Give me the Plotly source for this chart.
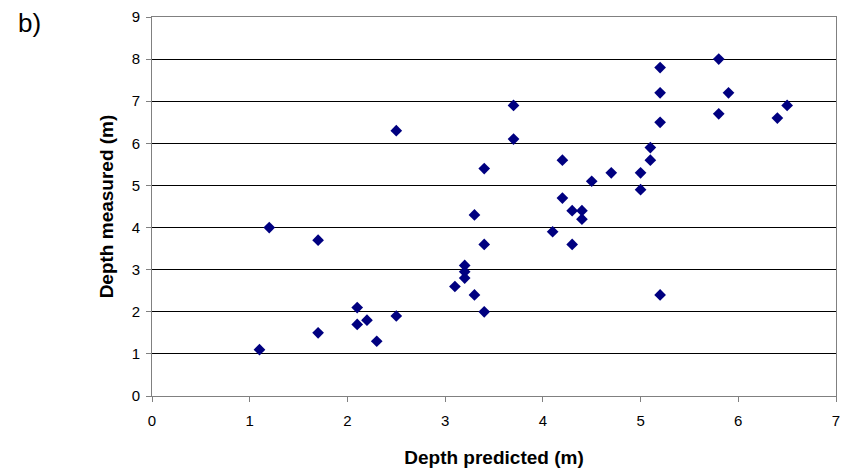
import plotly.graph_objects as go

depth_predicted = [1.1, 1.2, 1.7, 1.7, 2.1, 2.1, 2.2, 2.3, 2.5, 2.5,
                   3.1, 3.2, 3.2, 3.2, 3.3, 3.3, 3.4, 3.4, 3.4, 3.7,
                   3.7, 4.1, 4.2, 4.2, 4.3, 4.3, 4.4, 4.4, 4.5, 4.7,
                   5.0, 5.0, 5.1, 5.1, 5.2, 5.2, 5.2, 5.2, 5.8, 5.8,
                   5.9, 6.4, 6.5]
depth_measured = [1.1, 4.0, 3.7, 1.5, 2.1, 1.7, 1.8, 1.3, 1.9, 6.3,
                  2.6, 3.1, 2.95, 2.8, 4.3, 2.4, 3.6, 2.0, 5.4, 6.9,
                  6.1, 3.9, 5.6, 4.7, 4.4, 3.6, 4.4, 4.2, 5.1, 5.3,
                  5.3, 4.9, 5.9, 5.6, 7.8, 7.2, 6.5, 2.4, 8.0, 6.7,
                  7.2, 6.6, 6.9]

x_ticks = [0, 1, 2, 3, 4, 5, 6, 7]
y_ticks = [0, 1, 2, 3, 4, 5, 6, 7, 8, 9]

fig = go.Figure()
fig.add_trace(go.Scatter(
    x=depth_predicted, y=depth_measured, mode="markers",
    marker=dict(symbol="diamond", size=9, color="#000080", line=dict(width=0)),
    showlegend=False,
))

font = "Liberation Sans, Arial, sans-serif"
fig.update_layout(
    width=846, height=472,
    margin=dict(l=152, r=6, t=17, b=76),
    paper_bgcolor="white", plot_bgcolor="white",
    font=dict(family=font, size=15, color="black"),
    xaxis=dict(
        range=[0, 7], tickvals=x_ticks, showgrid=False, zeroline=False,
        showline=True, linecolor="#808080", linewidth=1, mirror=True,
        ticks="outside", ticklen=5, tickcolor="#808080",
        tickfont=dict(size=15), ticklabelstandoff=6,
        title=dict(text="<b>Depth predicted (m)</b>", font=dict(size=19), standoff=22),
    ),
    yaxis=dict(
        range=[0, 9], tickvals=y_ticks, showgrid=True, gridcolor="black", gridwidth=1,
        zeroline=False,
        showline=True, linecolor="#808080", linewidth=1, mirror=True,
        ticks="outside", ticklen=5, tickcolor="#808080",
        tickfont=dict(size=15), ticklabelstandoff=3,
        title=dict(text="<b>Depth measured (m)</b>", font=dict(size=19), standoff=13),
    ),
    annotations=[dict(
        text="b)", xref="paper", yref="paper", x=-0.199, y=0.984,
        xanchor="left", yanchor="middle", showarrow=False,
        font=dict(size=26, family=font),
    )],
)

fig.write_html("out.html")
